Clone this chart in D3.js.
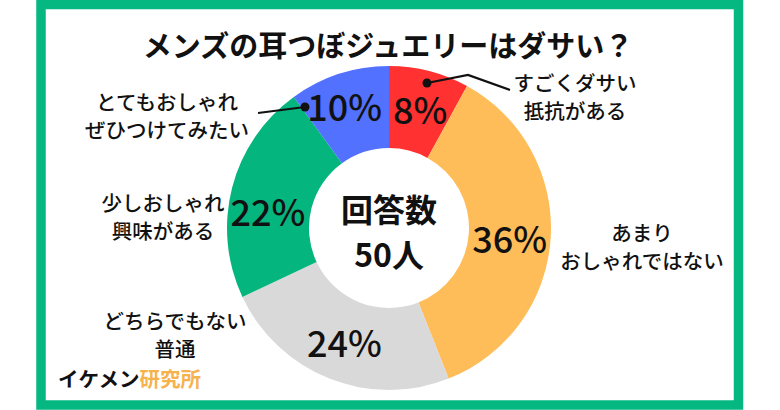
<!DOCTYPE html>
<html><head><meta charset="utf-8">
<script src="https://cdn.jsdelivr.net/npm/d3@7"></script>
<style>
html,body{margin:0;padding:0;background:#fff;}
svg{display:block;}
text{font-family:"Noto Sans CJK JP","Noto Sans",sans-serif;fill:#111;}
</style></head>
<body>
<svg id="c" width="780" height="410"></svg>
<script>
// ---- data ----
const title = "メンズの耳つぼジュエリーはダサい？";
const categories = [
  ["すごくダサい","抵抗がある"],
  ["あまり","おしゃれではない"],
  ["どちらでもない","普通"],
  ["少しおしゃれ","興味がある"],
  ["とてもおしゃれ","ぜひつけてみたい"]
];
const values = [8, 36, 24, 22, 10];
const centerLines = ["回答数", "50人"];
const brandA = "イケメン", brandB = "研究所";

// ---- style / layout ----
const colors = ["#FF3131", "#FFBD59", "#D9D9D9", "#05B57E", "#5271FF"];
const cx = 389, cy = 228, rOuter = 162, rInner = 80;
const pctNudge = [[1,-3],[0,1],[0,0],[-4,12],[-7,-8]];
const labelPos = [[575,82],[642,232],[175,320],[163,202],[167,101]];
const lineGap = 28;

const svg = d3.select("#c");
// frame
svg.append("rect").attr("x",41).attr("y",4.5).attr("width",697.5).attr("height",400.5)
  .attr("fill","none").attr("stroke","#05B882").attr("stroke-width",9.5);

svg.append("text").attr("x",388).attr("y",57).attr("text-anchor","middle")
  .attr("font-size",29).attr("font-weight",700).text(title);

const pie = d3.pie().sort(null).value(d=>d)(values);
const arc = d3.arc().innerRadius(rInner).outerRadius(rOuter);
const g = svg.append("g").attr("transform",`translate(${cx},${cy})`);
g.selectAll("path").data(pie).join("path").attr("d",arc).attr("fill",(d,i)=>colors[i]);

const arcMid = d3.arc().innerRadius(121).outerRadius(121);
g.selectAll("text.p").data(pie).join("text").attr("class","p")
  .attr("x",(d,i)=>arcMid.centroid(d)[0]+pctNudge[i][0])
  .attr("y",(d,i)=>arcMid.centroid(d)[1]+pctNudge[i][1])
  .attr("text-anchor","middle").attr("dominant-baseline","central")
  .attr("font-size",36).attr("font-weight",500)
  .text(d=>d.data+"%");

// center
g.append("text").attr("x",0).attr("y",-6).attr("text-anchor","middle")
  .attr("font-size",32).attr("font-weight",700).text(centerLines[0]);
g.append("text").attr("x",0).attr("y",39).attr("text-anchor","middle")
  .attr("font-size",32).attr("font-weight",700).text(centerLines[1]);

// outer labels
categories.forEach((lines,i)=>{
  const t = svg.append("text").attr("text-anchor","middle")
    .attr("font-size",20.5).attr("font-weight",500);
  lines.forEach((s,k)=>{
    t.append("tspan").attr("x",labelPos[i][0]).attr("y",labelPos[i][1]+k*lineGap)
     .attr("dominant-baseline","central").text(s);
  });
});

// leader lines
const leaders = [
  [[427,83],[468,75],[510,90]],
  [[305,107],[258,113]]
];
leaders.forEach(pts=>{
  svg.append("path").attr("d",d3.line()(pts)).attr("fill","none")
    .attr("stroke","#111").attr("stroke-width",2.2);
  svg.append("circle").attr("cx",pts[0][0]).attr("cy",pts[0][1]).attr("r",4.5).attr("fill","#111");
});

// brand
const b = svg.append("text").attr("x",58).attr("y",378).attr("dominant-baseline","central")
  .attr("font-size",20.5).attr("font-weight",700);
b.append("tspan").text(brandA);
b.append("tspan").attr("fill","#F6B24E").text(brandB);
</script>
</body></html>
